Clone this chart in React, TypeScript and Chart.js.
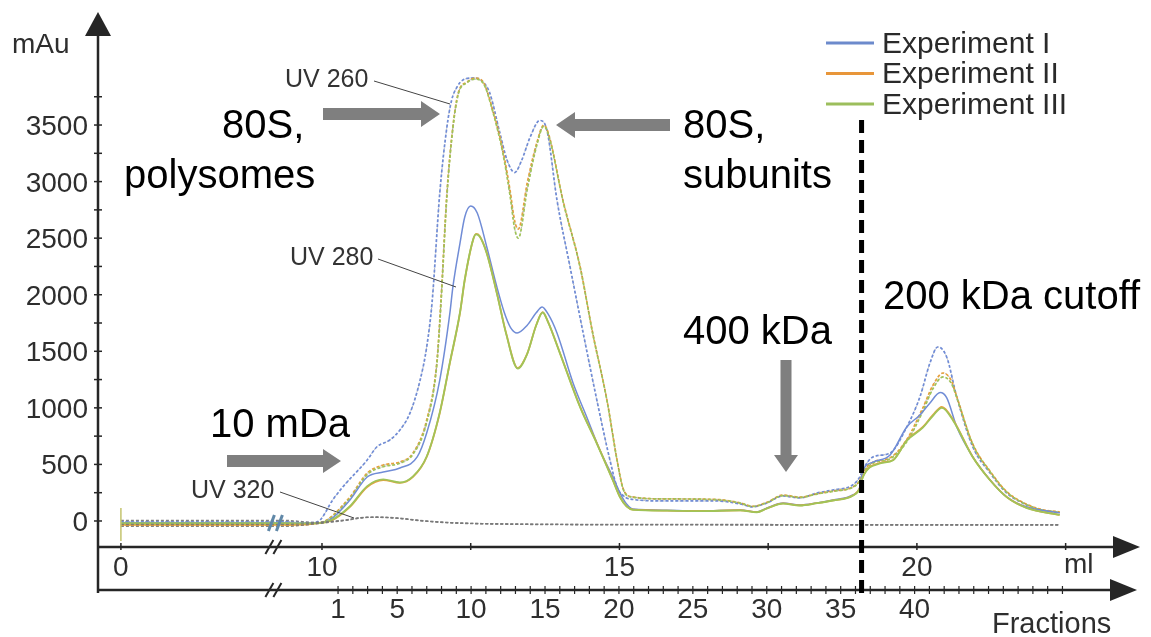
import React, { useEffect, useRef } from "react";
import { Chart, registerables } from "chart.js";

Chart.register(...registerables);

// ---------- data (ml, mAu) ----------
const EXPERIMENTS = ["Experiment I", "Experiment II", "Experiment III"];
const EXP_COLORS = ["rgb(112,140,214)", "rgb(232,160,60)", "rgb(160,196,88)"];
const LEGEND_COLORS = ["rgb(108,138,204)", "rgb(232,150,58)", "rgb(156,190,92)"];

const UV260_EXP_I: [number, number][] = [
  [0, -5], [9.4, -5], [9.85, -15], [9.97, 9], [10.18, 186], [10.35, 301], [10.76, 539], [10.92, 654],
  [11.14, 716], [11.31, 804], [11.48, 955], [11.65, 1246], [11.76, 1538], [11.85, 1930],
  [11.98, 2899], [12.1, 3483], [12.18, 3721], [12.27, 3836], [12.37, 3898], [12.54, 3916],
  [12.71, 3880], [12.82, 3783], [12.99, 3430], [13.11, 3191], [13.24, 3080], [13.35, 3180],
  [13.5, 3394], [13.66, 3540], [13.78, 3456], [13.95, 2837], [14.17, 2245], [14.39, 1662],
  [14.62, 1069], [14.84, 539], [14.96, 300], [15.1, 210], [15.23, 190], [15.8, 177],
  [16.64, 177], [17.03, 150], [17.24, 125], [17.48, 160], [17.75, 221], [18.03, 203],
  [18.32, 247], [18.59, 274], [18.92, 318], [19.04, 389], [19.09, 451], [19.26, 566],
  [19.55, 601], [19.83, 831], [20.05, 1096], [20.22, 1397], [20.35, 1538], [20.5, 1450],
  [20.67, 1096], [20.94, 654], [21.23, 424], [21.51, 247], [21.78, 159], [22.07, 97], [22.4, 71],
];
const UV260_EXP_II: [number, number][] = [
  [0, -40], [9.4, -40], [9.85, -25], [10.08, 9], [10.47, 212], [10.76, 424], [11.03, 495], [11.31, 522],
  [11.53, 601], [11.76, 893], [11.93, 1400], [12.0, 1950], [12.1, 2899], [12.2, 3483],
  [12.29, 3783], [12.44, 3880], [12.57, 3916], [12.71, 3880], [12.87, 3633], [13.04, 3279],
  [13.16, 2926], [13.24, 2650], [13.3, 2580], [13.45, 2988], [13.61, 3341], [13.73, 3500],
  [13.82, 3400], [14.05, 2837], [14.34, 2245], [14.55, 1662], [14.79, 1069], [14.96, 539],
  [15.06, 290], [15.2, 215], [15.8, 195], [16.64, 190], [17.03, 160], [17.24, 130],
  [17.48, 165], [17.75, 230], [18.03, 210], [18.32, 240], [18.59, 265], [18.92, 300],
  [19.04, 360], [19.09, 430], [19.26, 520], [19.55, 560], [19.83, 720], [20.1, 1000],
  [20.27, 1200], [20.44, 1308], [20.58, 1240], [20.67, 1100], [20.94, 680], [21.23, 440],
  [21.51, 260], [21.78, 165], [22.07, 105], [22.4, 80],
];
const UV260_EXP_III: [number, number][] = [
  [0, -25], [9.4, -25], [9.85, -20], [10.1, 9], [10.47, 200], [10.76, 410], [11.03, 480], [11.31, 510],
  [11.53, 590], [11.76, 870], [11.93, 1380], [12.0, 1920], [12.1, 2870], [12.2, 3470],
  [12.29, 3770], [12.44, 3875], [12.57, 3905], [12.71, 3870], [12.87, 3620], [13.04, 3250],
  [13.16, 2880], [13.24, 2580], [13.3, 2500], [13.45, 2930], [13.61, 3320], [13.73, 3490],
  [13.82, 3390], [14.05, 2830], [14.34, 2240], [14.55, 1660], [14.79, 1065], [14.96, 535],
  [15.06, 285], [15.2, 212], [15.8, 195], [16.64, 188], [17.03, 158], [17.24, 128],
  [17.48, 162], [17.75, 225], [18.03, 208], [18.32, 238], [18.59, 262], [18.92, 298],
  [19.04, 355], [19.09, 420], [19.26, 510], [19.55, 550], [19.83, 700], [20.1, 970],
  [20.27, 1170], [20.44, 1273], [20.58, 1215], [20.67, 1090], [20.94, 675], [21.23, 435],
  [21.51, 255], [21.78, 160], [22.07, 100], [22.4, 75],
];
const UV280_EXP_I: [number, number][] = [
  [0, -15], [9.4, -15], [9.85, -20], [10.13, 9], [10.47, 186], [10.76, 389], [11.03, 433], [11.31, 468],
  [11.6, 566], [11.76, 778], [11.98, 1246], [12.15, 1839], [12.2, 2068], [12.32, 2457],
  [12.4, 2687], [12.5, 2784], [12.61, 2722], [12.77, 2422], [12.94, 2068], [13.06, 1850],
  [13.17, 1710], [13.28, 1662], [13.45, 1730], [13.6, 1840], [13.7, 1892], [13.8, 1830],
  [13.95, 1662], [14.22, 1220], [14.45, 919], [14.67, 628], [14.89, 389], [15.01, 247],
  [15.12, 150], [15.23, 105], [15.8, 95], [16.35, 88], [17.03, 97], [17.31, 80],
  [17.48, 115], [17.75, 159], [18.03, 141], [18.32, 160], [18.59, 186], [18.92, 230],
  [19.04, 300], [19.09, 440], [19.26, 520], [19.55, 583], [19.83, 831], [20.05, 937],
  [20.22, 1043], [20.39, 1135], [20.5, 1090], [20.67, 831], [20.94, 566], [21.23, 362],
  [21.51, 212], [21.85, 124], [22.4, 71],
];
const UV280_EXP_II: [number, number][] = [
  [0, -35], [9.4, -35], [9.85, -25], [10.18, 9], [10.47, 124], [10.76, 301], [11.03, 362], [11.31, 336],
  [11.53, 389], [11.76, 566], [11.98, 955], [12.15, 1397], [12.32, 1839], [12.4, 2130],
  [12.54, 2484], [12.59, 2537], [12.65, 2520], [12.77, 2369], [12.94, 2015], [13.1, 1650],
  [13.29, 1352], [13.45, 1480], [13.6, 1730], [13.71, 1847], [13.8, 1760], [14.0, 1485],
  [14.34, 1008], [14.62, 689], [14.89, 362], [15.01, 212], [15.12, 130], [15.23, 100],
  [15.8, 92], [16.35, 88], [17.03, 95], [17.31, 78], [17.48, 112], [17.75, 155],
  [18.03, 138], [18.32, 158], [18.59, 182], [18.92, 225], [19.04, 290], [19.09, 389],
  [19.38, 513], [19.6, 539], [19.83, 716], [20.1, 831], [20.27, 937], [20.42, 1008],
  [20.61, 893], [20.94, 566], [21.23, 362], [21.51, 212], [21.85, 115], [22.4, 53],
];
const UV280_EXP_III: [number, number][] = [
  [0, -20], [9.4, -20], [9.85, -22], [10.16, 9], [10.47, 130], [10.76, 308], [11.03, 367], [11.31, 340],
  [11.53, 394], [11.76, 570], [11.98, 960], [12.15, 1403], [12.32, 1845], [12.4, 2135],
  [12.54, 2487], [12.59, 2533], [12.65, 2515], [12.77, 2365], [12.94, 2010], [13.1, 1645],
  [13.29, 1348], [13.45, 1478], [13.6, 1728], [13.71, 1843], [13.8, 1757], [14.0, 1482],
  [14.34, 1004], [14.62, 684], [14.89, 358], [15.01, 210], [15.12, 129], [15.23, 99],
  [15.8, 91], [16.35, 87], [17.03, 94], [17.31, 77], [17.48, 111], [17.75, 153],
  [18.03, 137], [18.32, 157], [18.59, 181], [18.92, 223], [19.04, 287], [19.09, 385],
  [19.38, 508], [19.6, 537], [19.83, 710], [20.1, 825], [20.27, 930], [20.42, 1000],
  [20.61, 886], [20.94, 563], [21.23, 360], [21.51, 211], [21.85, 114], [22.4, 54],
];
const UV320_EXP_I: [number, number][] = [
  [0, 5], [9.4, 5], [9.85, -12], [10.13, -5], [10.47, 15], [10.64, 30], [10.92, 35], [11.31, 25],
  [11.65, 5], [12.2, -15], [13.0, -25], [15.0, -30], [22.4, -32],
];
const UV320_EXP_II: [number, number][] = [
  [0, -48], [9.4, -48], [9.85, -28], [10.13, -12], [10.47, 10], [10.64, 26], [10.92, 32], [11.31, 22],
  [11.65, 2], [12.2, -18], [13.0, -28], [15.0, -34], [22.4, -36],
];
const UV320_EXP_III: [number, number][] = [
  [0, -30], [9.4, -30], [9.85, -20], [10.13, -8], [10.47, 12], [10.64, 28], [10.92, 33], [11.31, 23],
  [11.65, 3], [12.2, -16], [13.0, -26], [15.0, -32], [22.4, -34],
];

const UV260 = [UV260_EXP_I, UV260_EXP_II, UV260_EXP_III];
const UV280 = [UV280_EXP_I, UV280_EXP_II, UV280_EXP_III];
const UV320 = [UV320_EXP_I, UV320_EXP_II, UV320_EXP_III];

// axes
const Y_MAJOR_TICKS = [0, 500, 1000, 1500, 2000, 2500, 3000, 3500];
const Y_MINOR_TICKS = [250, 750, 1250, 1750, 2250, 2750, 3250, 3750];
const ML_TICKS = [0, 10, 12.5, 15, 17.5, 20, 22.5];
const ML_LABELS = [0, 10, 15, 20];
const FRACTION_LABELS = [1, 5, 10, 15, 20, 25, 30, 35, 40];
const FRACTION_COUNT = 50;
const FRACTION_1_ML = 10.27;
const FRACTION_WIDTH_ML = 0.2485;
const CUTOFF_ML = 19.07;

// axis break: real ml 0..BREAK_ML is compressed
const BREAK_ML = 9.2;
const ZERO_AXIS = 6.62;
const X_MIN = 6.235;
const X_MAX = 23.75;
const Y_MIN = -230;
const Y_MAX = 4340;

function toAxis(ml: number) {
  return ml >= BREAK_ML ? ml : ZERO_AXIS + (ml * (BREAK_ML - ZERO_AXIS)) / BREAK_ML;
}
function fracMl(n: number) {
  return FRACTION_1_ML + (n - 1) * FRACTION_WIDTH_ML;
}
const pts = (arr: [number, number][]) => arr.map(([x, y]) => ({ x: toAxis(x), y }));

const FONT = '"Liberation Sans", Arial, Helvetica, sans-serif';

function txt(ctx: CanvasRenderingContext2D, s: string, x: number, y: number, size: number, color: string, align: CanvasTextAlign = "left") {
  ctx.font = `${size}px ${FONT}`;
  ctx.fillStyle = color;
  ctx.textAlign = align;
  ctx.textBaseline = "alphabetic";
  ctx.fillText(s, x, y);
}

function line(ctx: CanvasRenderingContext2D, x1: number, y1: number, x2: number, y2: number, color: string, w: number) {
  ctx.beginPath();
  ctx.strokeStyle = color;
  ctx.lineWidth = w;
  ctx.moveTo(x1, y1);
  ctx.lineTo(x2, y2);
  ctx.stroke();
}

function blockArrow(ctx: CanvasRenderingContext2D, x1: number, y1: number, x2: number, y2: number, shaft: number, headL: number, headW: number, color: string) {
  const dx = x2 - x1, dy = y2 - y1;
  const len = Math.hypot(dx, dy);
  const ux = dx / len, uy = dy / len;
  const nx = -uy, ny = ux;
  const bx = x2 - ux * headL, by = y2 - uy * headL;
  ctx.beginPath();
  ctx.fillStyle = color;
  ctx.moveTo(x1 + nx * shaft / 2, y1 + ny * shaft / 2);
  ctx.lineTo(bx + nx * shaft / 2, by + ny * shaft / 2);
  ctx.lineTo(bx + nx * headW, by + ny * headW);
  ctx.lineTo(x2, y2);
  ctx.lineTo(bx - nx * headW, by - ny * headW);
  ctx.lineTo(bx - nx * shaft / 2, by - ny * shaft / 2);
  ctx.lineTo(x1 - nx * shaft / 2, y1 - ny * shaft / 2);
  ctx.closePath();
  ctx.fill();
}

function triangle(ctx: CanvasRenderingContext2D, p: number[][], color: string) {
  ctx.beginPath();
  ctx.fillStyle = color;
  ctx.moveTo(p[0][0], p[0][1]);
  for (let i = 1; i < p.length; i++) ctx.lineTo(p[i][0], p[i][1]);
  ctx.closePath();
  ctx.fill();
}

const overlayPlugin = {
  id: "overlay",
  afterDraw(chart: any) {
    const ctx: CanvasRenderingContext2D = chart.ctx;
    const xs = chart.scales.x;
    const ys = chart.scales.y;
    const X = (v: number) => xs.getPixelForValue(v);
    const Y = (v: number) => ys.getPixelForValue(v);
    const left = chart.chartArea.left;
    const axisY = chart.chartArea.bottom; // ml axis
    const fracY = axisY + 43;
    const axisEnd = 1140;
    const axisCol = "#262626";
    const labCol = "#2e2e2e";
    ctx.save();

    // baseline markers
    line(ctx, X(toAxis(0)), 508, X(toAxis(0)), 541, "rgb(196,196,110)", 1.5);
    const bx = X(toAxis(BREAK_ML));
    line(ctx, bx - 6, 531, bx, 515, "rgb(96,136,168)", 3);
    line(ctx, bx + 2, 531, bx + 8, 515, "rgb(96,136,168)", 3);

    // y axis
    line(ctx, left, fracY + 3, left, 30, axisCol, 2.5);
    triangle(ctx, [[left, 12], [left - 13, 36], [left + 13, 36]], axisCol);
    [...Y_MAJOR_TICKS, ...Y_MINOR_TICKS].forEach((v) => line(ctx, left - 4, Y(v), left + 4, Y(v), axisCol, 1.5));
    Y_MAJOR_TICKS.forEach((v) => txt(ctx, String(v), 88, Y(v) + 10, 28, labCol, "right"));
    txt(ctx, "mAu", 12, 53, 28, labCol);

    // ml axis
    line(ctx, left, axisY, axisEnd - 20, axisY, axisCol, 2.5);
    triangle(ctx, [[axisEnd, axisY], [axisEnd - 27, axisY - 11], [axisEnd - 27, axisY + 11]], axisCol);
    ML_TICKS.forEach((v) => { const p = X(toAxis(v)); line(ctx, p, axisY - 4, p, axisY + 3, axisCol, 1.5); });
    ML_LABELS.forEach((v) => txt(ctx, String(v), X(toAxis(v)), 576, 28, labCol, "center"));
    txt(ctx, "ml", 1064, 573, 28, labCol);

    // fractions axis
    line(ctx, left, fracY, axisEnd - 20, fracY, axisCol, 2.5);
    triangle(ctx, [[axisEnd - 3, fracY], [axisEnd - 30, fracY - 11], [axisEnd - 30, fracY + 11]], axisCol);
    for (let n = 1; n <= FRACTION_COUNT; n++) {
      const p = X(fracMl(n));
      line(ctx, p, fracY - 4, p, fracY + 4, axisCol, 1.2);
    }
    FRACTION_LABELS.forEach((n) => txt(ctx, String(n), X(fracMl(n)), 618, 28, labCol, "center"));
    txt(ctx, "Fractions", 992, 633, 29, labCol);

    // axis breaks
    [axisY, fracY].forEach((yy) => {
      line(ctx, bx - 9, yy + 7, bx - 1, yy - 7, axisCol, 2);
      line(ctx, bx - 1, yy + 7, bx + 7, yy - 7, axisCol, 2);
    });

    // cutoff dashed line
    ctx.setLineDash([13, 7]);
    line(ctx, X(CUTOFF_ML), 120, X(CUTOFF_ML), fracY + 5, "#000", 5);
    ctx.setLineDash([]);

    // grey block arrows
    const arrowCol = "#7f7f7f";
    blockArrow(ctx, 323, 114, 440, 114, 12, 19, 13, arrowCol);
    blockArrow(ctx, 670, 125, 556, 125, 12, 19, 13, arrowCol);
    blockArrow(ctx, 227, 461, 341, 461, 12, 18, 12, arrowCol);
    blockArrow(ctx, 786, 360, 786, 472, 11, 17, 12, arrowCol);

    // annotation labels
    txt(ctx, "80S,", 222, 138, 40, "#000");
    txt(ctx, "polysomes", 124, 188, 40, "#000");
    txt(ctx, "80S,", 683, 138, 40, "#000");
    txt(ctx, "subunits", 683, 188, 40, "#000");
    txt(ctx, "10 mDa", 210, 437, 40, "#000");
    txt(ctx, "400 kDa", 683, 344, 40, "#000");
    txt(ctx, "200 kDa cutoff", 883, 309, 40, "#000");

    // UV labels & leaders
    txt(ctx, "UV 260", 285, 87, 25, "#333");
    line(ctx, 374, 81, 450, 104, "#444", 1);
    txt(ctx, "UV 280", 290, 265, 25, "#333");
    line(ctx, 378, 259, 456, 287, "#444", 1);
    txt(ctx, "UV 320", 191, 498, 25, "#333");
    line(ctx, 280, 492, 354, 518, "#444", 1);

    // legend
    EXPERIMENTS.forEach((name, i) => {
      const ly = 43 + i * 30.5;
      line(ctx, 826, ly, 874, ly, LEGEND_COLORS[i], 3);
      txt(ctx, name, 882, ly + 9.5, 30, "#2a2a2a");
    });

    ctx.restore();
  },
};

export default function App() {
  const ref = useRef<HTMLCanvasElement | null>(null);
  useEffect(() => {
    if (!ref.current) return;
    const datasets: any[] = [];
    const base = { pointRadius: 0, fill: false, cubicInterpolationMode: "monotone" as const };
    UV320.forEach((d, i) =>
      datasets.push({ ...base, label: `UV 320 ${EXPERIMENTS[i]}`, data: pts(d), borderColor: "rgba(120,120,120,0.9)", borderWidth: 1.3, borderDash: [3, 2] })
    );
    [2, 1, 0].forEach((i) => {
      datasets.push({ ...base, label: `UV 280 ${EXPERIMENTS[i]}`, data: pts(UV280[i]), borderColor: EXP_COLORS[i], borderWidth: i === 0 ? 1.5 : 1.8 });
    });
    [2, 1, 0].forEach((i) => {
      datasets.push({ ...base, label: `UV 260 ${EXPERIMENTS[i]}`, data: pts(UV260[i]), borderColor: EXP_COLORS[i], borderWidth: 1.7, borderDash: [3, 2] });
      datasets.push({ ...base, label: `UV 260 ${EXPERIMENTS[i]} dots`, data: pts(UV260[i]), borderColor: "rgba(95,95,95,0.45)", borderWidth: 1, borderDash: [1.5, 2.5] });
    });

    const chart = new Chart(ref.current, {
      type: "line",
      data: { datasets },
      options: {
        animation: false,
        responsive: false,
        maintainAspectRatio: false,
        layout: { padding: { left: 98, top: 30, right: 11, bottom: 90 } },
        plugins: { legend: { display: false }, tooltip: { enabled: false } },
        scales: {
          x: { type: "linear", min: X_MIN, max: X_MAX, display: false },
          y: { type: "linear", min: Y_MIN, max: Y_MAX, display: false },
        },
      },
      plugins: [overlayPlugin],
    });
    return () => chart.destroy();
  }, []);
  return (
    <div style={{ position: "fixed", left: 0, top: 0, width: 1151, height: 637, background: "#fff" }}>
      <canvas ref={ref} width={1151} height={637} />
    </div>
  );
}
